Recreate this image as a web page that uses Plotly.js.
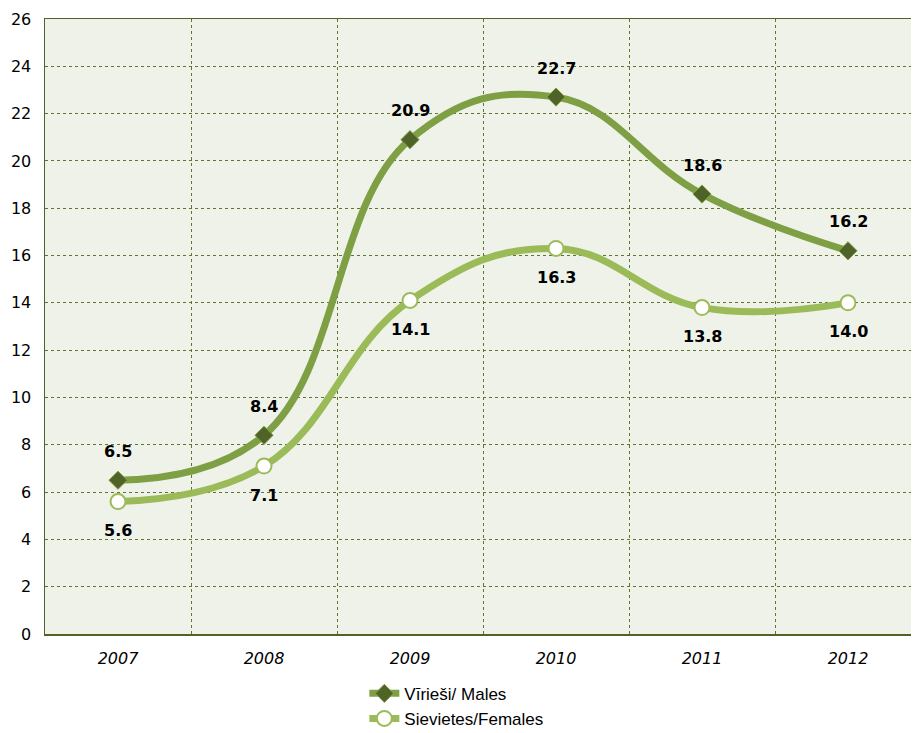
<!DOCTYPE html>
<html>
<head>
<meta charset="utf-8">
<script src="https://cdn.plot.ly/plotly-3.0.1.min.js"></script>
<style>html,body{margin:0;padding:0;background:#fff;}#chart{width:913px;height:733px;}</style>
</head>
<body>
<div id="chart"></div>
<script>
const years = ["2007", "2008", "2009", "2010", "2011", "2012"];
const males = [6.5, 8.4, 20.9, 22.7, 18.6, 16.2];
const females = [5.6, 7.1, 14.1, 16.3, 13.8, 14.0];
const maleName = "Vīrieši/ Males";
const femaleName = "Sievietes/Females";

const idx = years.map((_, i) => i);
const boundaries = years.map((_, i) => i - 0.5);

const traces = [
  {
    x: idx, y: males, name: maleName, type: "scatter", mode: "lines+markers",
    line: {shape: "spline", smoothing: 1.2, color: "#7f9f45", width: 7},
    marker: {symbol: "diamond", size: 14, color: "#4f6228", line: {color: "#7f9f45", width: 1}},
    xaxis: "x", yaxis: "y"
  },
  {
    x: idx, y: females, name: femaleName, type: "scatter", mode: "lines+markers",
    line: {shape: "spline", smoothing: 1.2, color: "#9bbb59", width: 7},
    marker: {symbol: "circle", size: 15, color: "#ffffff", line: {color: "#9bbb59", width: 2}},
    xaxis: "x", yaxis: "y"
  },
  {
    x: boundaries, y: boundaries.map(() => null), type: "scatter", mode: "lines",
    showlegend: false, hoverinfo: "skip", xaxis: "x2", yaxis: "y"
  }
];

const annotations = [];
const labelFont = {family: "DejaVu Sans", size: 16, color: "#000000", weight: "bold"};
males.forEach((v, i) => annotations.push({
  x: i, y: v, xref: "x", yref: "y", text: "<b>" + v.toFixed(1) + "</b>",
  showarrow: false, yshift: 29, font: labelFont
}));
females.forEach((v, i) => annotations.push({
  x: i, y: v, xref: "x", yref: "y", text: "<b>" + v.toFixed(1) + "</b>",
  showarrow: false, yshift: -29, font: labelFont
}));

const xr = [-0.5, 5.5 - 10 / 146];
const gridColor = "#5f7530";

const layout = {
  width: 913, height: 733,
  margin: {l: 45, r: 2, t: 19, b: 99, autoexpand: false},
  paper_bgcolor: "#ffffff",
  plot_bgcolor: "#eff2e9",
  showlegend: true,
  legend: {
    orientation: "v", x: 0.475, xanchor: "center", y: -0.068, yanchor: "top",
    font: {family: "Liberation Sans, Arial", size: 17, color: "#000000"},
    tracegroupgap: 0
  },
  xaxis: {
    range: xr, tickvals: idx, ticktext: years,
    tickfont: {family: "DejaVu Sans", size: 16, color: "#000000", style: "italic"},
    showgrid: false, zeroline: false,
    showline: true, mirror: true, linecolor: "#4f6228", linewidth: 1.5,
    ticks: "", ticklabelstandoff: 9, fixedrange: true
  },
  xaxis2: {
    range: xr, overlaying: "x", tickvals: boundaries, showticklabels: false,
    showgrid: true, gridcolor: gridColor, griddash: "dot", gridwidth: 1,
    zeroline: false, showline: false, ticks: ""
  },
  yaxis: {
    range: [0, 26], dtick: 2, tick0: 0,
    tickfont: {family: "DejaVu Sans", size: 16, color: "#000000"},
    showgrid: true, gridcolor: gridColor, griddash: "dot", gridwidth: 1,
    zeroline: false, showline: true, linecolor: "#4f6228", linewidth: 1.5,
    ticks: "", ticklabelstandoff: 9
  },
  annotations: annotations
};

Plotly.newPlot("chart", traces, layout, {displayModeBar: false, staticPlot: true});
</script>
</body>
</html>
